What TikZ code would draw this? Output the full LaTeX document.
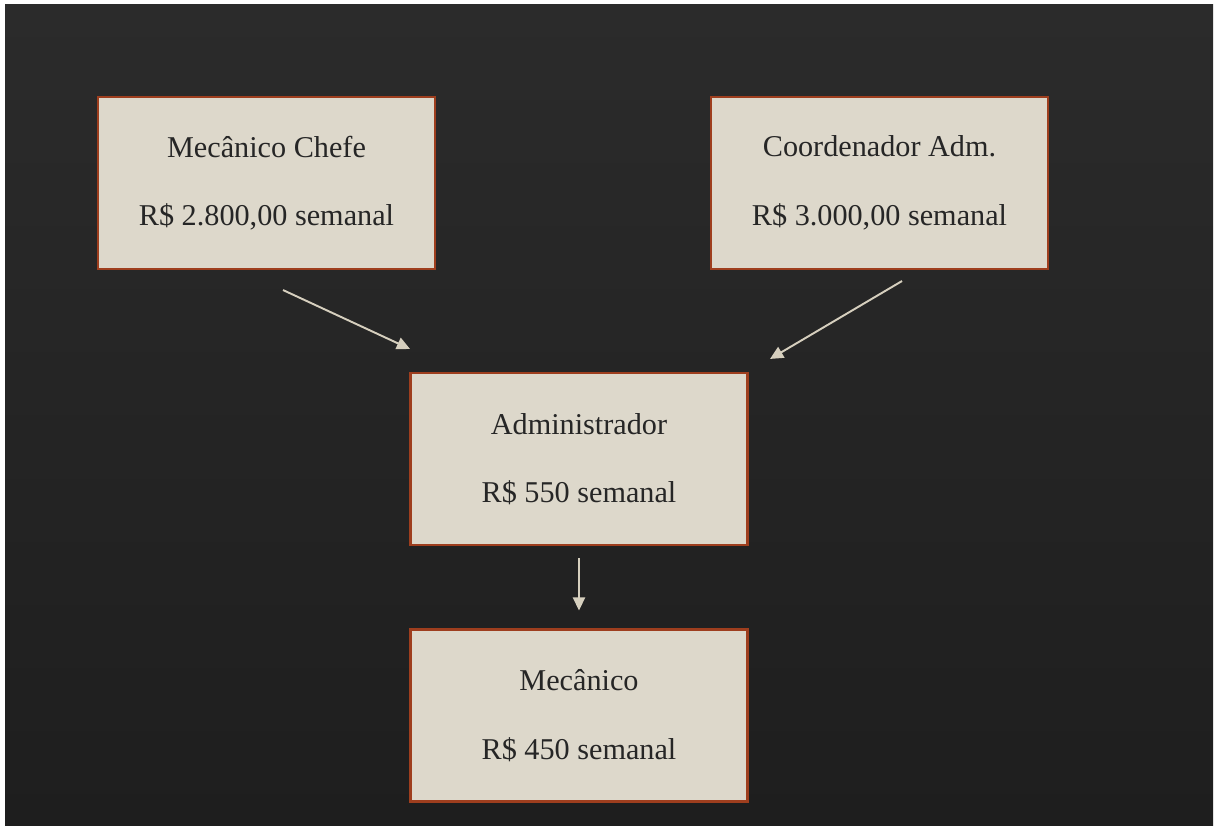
\documentclass[tikz,border=0pt]{standalone}
\usepackage{fontspec}
\setmainfont{Liberation Serif}
\usepackage{xcolor}
\usetikzlibrary{arrows.meta}

\definecolor{boxfill}{HTML}{DDD8CB}
\definecolor{boxedge}{HTML}{9E3E1E}
\definecolor{boxtext}{HTML}{262626}
\definecolor{arrowline}{HTML}{D6CFBE}
\definecolor{slatetop}{HTML}{2B2B2B}
\definecolor{slatebot}{HTML}{1E1E1E}

\begin{document}
\begin{tikzpicture}[x=0.02cm, y=-0.02cm,
	cargo/.style={draw=boxedge, line width=1.2pt, fill=boxfill, text=boxtext, minimum width=6.74cm, minimum height=3.44cm, align=center, inner sep=0pt, font=\fontsize{17.2}{39}\selectfont},
	seta/.style={draw=arrowline, line width=1.1pt, -{Triangle[length=7.5pt, width=7pt]}}]
	\useasboundingbox (0,0) rectangle (1214,827);
	\fill[white] (0,0) rectangle (1214,827);
	\shade[top color=slatetop, bottom color=slatebot] (5,5) rectangle (1213,825);
	
	\node[cargo] (chefe) at (266.5,183) {Mecânico Chefe\\R\$ 2.800,00 semanal};
	\node[cargo] (coord) at (879.5,183) {Coordenador Adm.\\R\$ 3.000,00 semanal};
	\node[cargo] (admin) at (579,459) {Administrador\\R\$ 550 semanal};
	\node[cargo] (mec) at (579,715.5) {Mecânico\\R\$ 450 semanal};
	
	\draw[seta] ([shift={(16.5,20)}]chefe.south) -- ([shift={(-169,-23)}]admin.north);
	\draw[seta] ([shift={(22.5,11)}]coord.south) -- ([shift={(191,-13)}]admin.north);
	\draw[seta] ([shift={(0,12)}]admin.south) -- ([shift={(0,-18)}]mec.north);
\end{tikzpicture}
\end{document}
